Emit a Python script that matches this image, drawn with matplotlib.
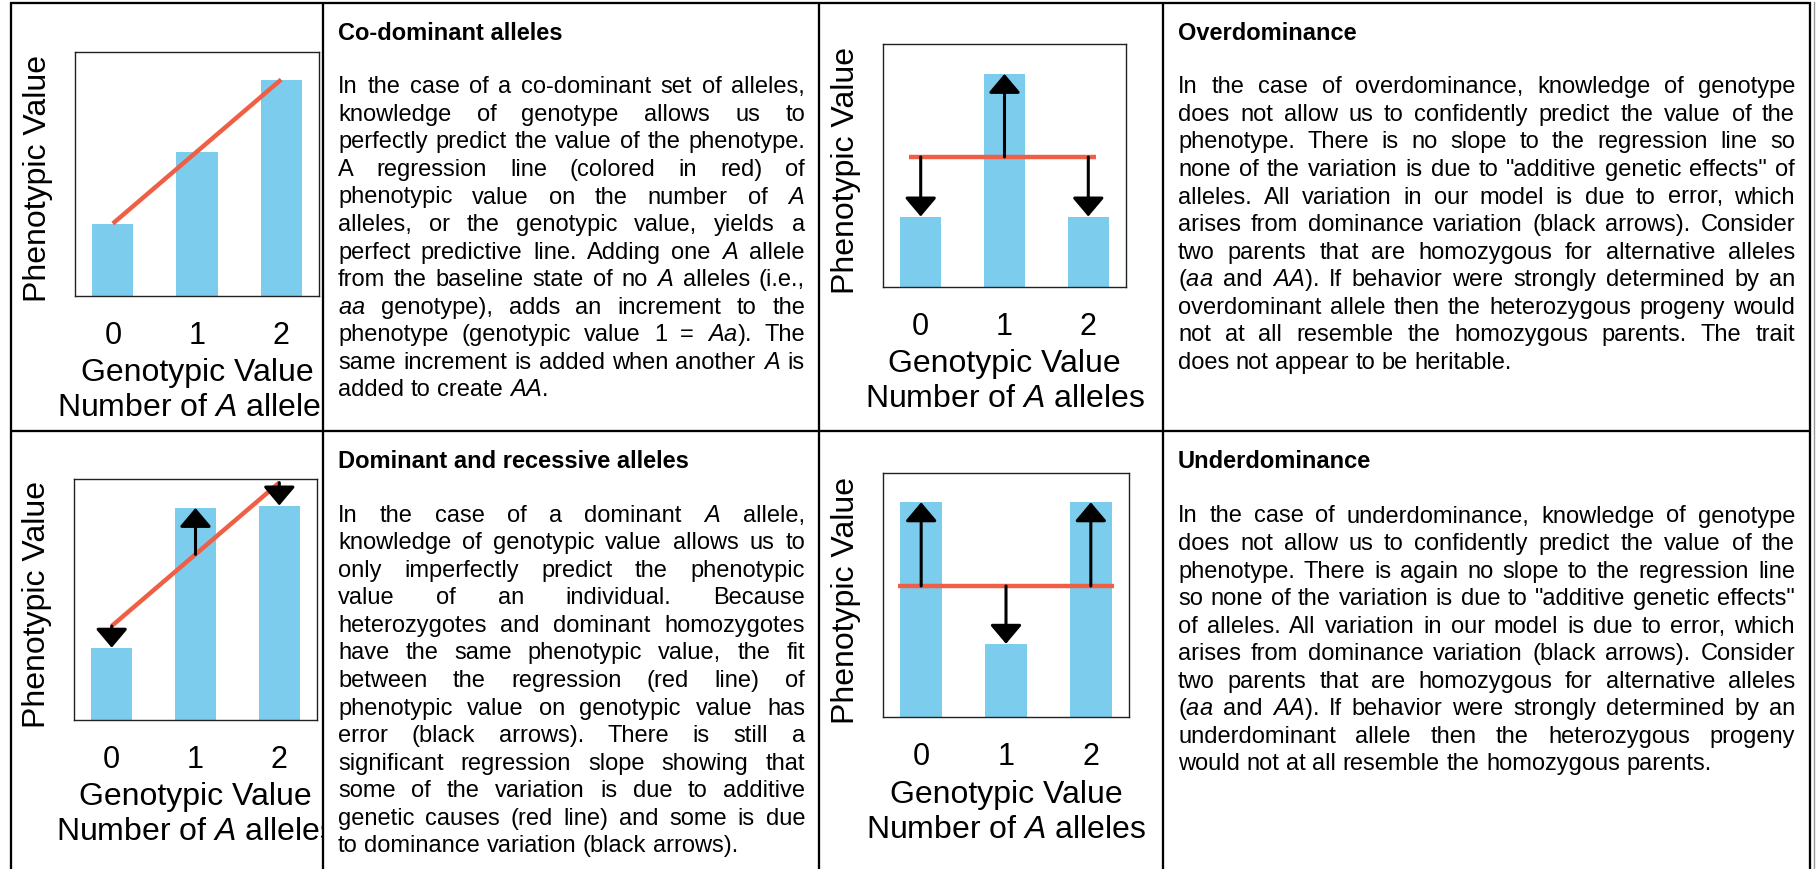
import matplotlib
matplotlib.use("Agg")
import matplotlib.pyplot as plt
import numpy as np
from matplotlib.transforms import offset_copy, Bbox, TransformedBbox

W, H, DPI = 1816, 869, 100
BAR = "#7BCCED"
REG = "#EF5F45"
INK = "#000000"
FONT = "Liberation Sans"

plt.rcParams["font.family"] = [FONT, "DejaVu Sans"]
plt.rcParams["mathtext.fontset"] = "custom"
plt.rcParams["mathtext.rm"] = FONT
plt.rcParams["mathtext.it"] = FONT + ":italic"
plt.rcParams["mathtext.bf"] = FONT + ":bold"

# --- data: genotypic value (number of A alleles) vs phenotypic value (axes fraction)
genotypes = [0, 1, 2]
tick_labels = ["0", "1", "2"]

codominant = [0.297, 0.590, 0.887]
dominant = [0.30, 0.88, 0.89]
overdominant = [0.29, 0.877, 0.29]
underdominant = [0.88, 0.30, 0.88]

# regression lines: x ends, y ends
codominant_reg = ([0, 2], [0.297, 0.887])
dominant_reg = ([0, 2], [0.39, 0.985])
overdominant_reg = ([-0.14, 2.09], [0.535, 0.535])
underdominant_reg = ([-0.27, 2.27], [0.537, 0.537])

# --- text (_x_ marks italics)
codominant_title = "Co-dominant alleles"
codominant_text = [
    "In the case of a co-dominant set of alleles,",
    "knowledge of genotype allows us to",
    "perfectly predict the value of the phenotype.",
    "A regression line (colored in red) of",
    "phenotypic value on the number of _A_",
    "alleles, or the genotypic value, yields a",
    "perfect predictive line. Adding one _A_ allele",
    "from the baseline state of no _A_ alleles (i.e.,",
    "_aa_ genotype), adds an increment to the",
    "phenotype (genotypic value 1 = _Aa_). The",
    "same increment is added when another _A_ is",
    "added to create _AA_.",
]
dominant_title = "Dominant and recessive alleles"
dominant_text = [
    "In the case of a dominant _A_ allele,",
    "knowledge of genotypic value allows us to",
    "only imperfectly predict the phenotypic",
    "value of an individual. Because",
    "heterozygotes and dominant homozygotes",
    "have the same phenotypic value, the fit",
    "between the regression (red line) of",
    "phenotypic value on genotypic value has",
    "error (black arrows). There is still a",
    "significant regression slope showing that",
    "some of the variation is due to additive",
    "genetic causes (red line) and some is due",
    "to dominance variation (black arrows).",
]
overdominant_title = "Overdominance"
overdominant_text = [
    "In the case of overdominance, knowledge of genotype",
    "does not allow us to confidently predict the value of the",
    "phenotype. There is no slope to the regression line so",
    "none of the variation is due to \"additive genetic effects\" of",
    "alleles. All variation in our model is due to error, which",
    "arises from dominance variation (black arrows). Consider",
    "two parents that are homozygous for alternative alleles",
    "(_aa_ and _AA_). If behavior were strongly determined by an",
    "overdominant allele then the heterozygous progeny would",
    "not at all resemble the homozygous parents. The trait",
    "does not appear to be heritable.",
]
underdominant_title = "Underdominance"
underdominant_text = [
    "In the case of underdominance, knowledge of genotype",
    "does not allow us to confidently predict the value of the",
    "phenotype. There is again no slope to the regression line",
    "so none of the variation is due to \"additive genetic effects\"",
    "of alleles. All variation in our model is due to error, which",
    "arises from dominance variation (black arrows). Consider",
    "two parents that are homozygous for alternative alleles",
    "(_aa_ and _AA_). If behavior were strongly determined by an",
    "underdominant allele then the heterozygous progeny",
    "would not at all resemble the homozygous parents.",
]

fig = plt.figure(figsize=(W / DPI, H / DPI), dpi=DPI)
fig.patch.set_facecolor("white")
bg = fig.add_axes([0, 0, 1, 1])
bg.set_xlim(0, W)
bg.set_ylim(H, 0)
bg.axis("off")

# table rules
RULE = 1.65
for x in (11.2, 322.8, 819, 1162.8, 1810):
    bg.plot([x, x], [1.7, H], color=INK, lw=RULE, solid_capstyle="butt")
bg.plot([1814, 1814], [1.7, H], color="#9a9a9a", lw=1.0)
for y in (2.8, 431.2):
    bg.plot([10, 1811], [y, y], color=INK, lw=RULE, solid_capstyle="butt")


def panel(box, cell, values, reg):
    l, t, r, b = box
    ax = fig.add_axes([l / W, 1 - b / H, (r - l) / W, (b - t) / H])
    ax.bar(genotypes, values, width=0.49, color=BAR, linewidth=0, zorder=1)
    ax.plot(reg[0], reg[1], color=REG, lw=3.2, zorder=2, solid_capstyle="butt")
    fit = np.interp(genotypes, reg[0], reg[1])
    for g, v, f in zip(genotypes, values, fit):
        if abs(v - f) > 0.02:
            ax.annotate("", xy=(g, v), xytext=(g, f), zorder=3,
                        arrowprops=dict(arrowstyle="-|>,head_length=0.58,head_width=0.49",
                                        mutation_scale=20, lw=2.2, color=INK,
                                        shrinkA=0, shrinkB=0))
    ax.set_xlim(-0.45, 2.45)
    ax.set_ylim(0, 1)
    ax.set_yticks([])
    ax.set_xticks(genotypes, tick_labels)
    ax.tick_params(axis="x", length=0, pad=18, labelsize=22, colors=INK)
    for s in ax.spines.values():
        s.set_linewidth(1.0)
        s.set_color("#222222")
        s.set_zorder(4)
    clip = TransformedBbox(Bbox.from_extents(cell[0] / W, 0, cell[1] / W, 1), fig.transFigure)
    fig.text(0.5, 0, "Genotypic Value", fontsize=23, ha="center", va="baseline",
             transform=offset_copy(ax.transAxes, fig=fig, y=-85.5, units="dots"),
             clip_box=clip, clip_on=True)
    fig.text(0.5, 0, r"Number of $\mathit{A}$ alleles", fontsize=23, ha="center", va="baseline",
             transform=offset_copy(ax.transAxes, fig=fig, y=-120.5, units="dots"),
             clip_box=clip, clip_on=True)
    fig.text(0, 0.5, "Phenotypic Value", fontsize=23, rotation=90, rotation_mode="anchor",
             ha="center", va="baseline",
             transform=offset_copy(ax.transAxes, fig=fig, x=-29, y=-5, units="dots"))
    return ax


panel((75, 52, 319, 296), (11, 323), codominant, codominant_reg)
panel((883, 44, 1126, 287), (819, 1163), overdominant, overdominant_reg)
panel((74, 479, 317, 720), (11, 323), dominant, dominant_reg)
panel((883, 473, 1129, 717), (819, 1163), underdominant, underdominant_reg)

# justified text blocks
renderer = fig.canvas.get_renderer()
SIZE = 17
LEAD = 27.55


def to_tex(word):
    parts = word.split("_")
    return "".join((r"$\mathit{" + p + "}$") if i % 2 else p
                   for i, p in enumerate(parts) if p)


def width_of(s, **kw):
    t = bg.text(0, 0, s, fontsize=SIZE, **kw)
    w = t.get_window_extent(renderer=renderer).width
    t.remove()
    return w


def paragraph(title, lines, x0, x1, title_base, body_base):
    bg.text(x0, title_base, title, fontsize=SIZE, fontweight="bold", va="baseline", ha="left")
    space = width_of("n n") - width_of("nn")
    for i, line in enumerate(lines):
        words = [to_tex(w) for w in line.split()]
        widths = [width_of(w) for w in words]
        last = i == len(lines) - 1
        if last or len(words) < 2:
            gap = space
        else:
            gap = (x1 - x0 - sum(widths)) / (len(words) - 1)
        x = x0
        y = body_base + i * LEAD
        for w, wd in zip(words, widths):
            bg.text(x, y, w, fontsize=SIZE, va="baseline", ha="left", color=INK)
            x += wd + gap


paragraph(codominant_title, codominant_text, 338, 805, 40, 93.3)
paragraph(overdominant_title, overdominant_text, 1178, 1795, 40, 93.3)
paragraph(dominant_title, dominant_text, 338, 805, 468.3, 521.7)
paragraph(underdominant_title, underdominant_text, 1178, 1795, 468.3, 522.5)

fig.savefig("out.png", dpi=DPI, facecolor="white")
